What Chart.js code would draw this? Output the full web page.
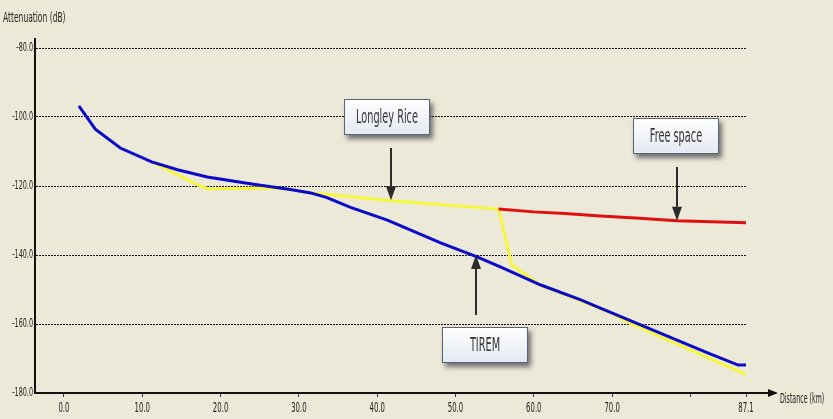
<!DOCTYPE html>
<html>
<head>
<meta charset="utf-8">
<script src="https://cdn.jsdelivr.net/npm/chart.js@4.4.1/dist/chart.umd.min.js"></script>
<style>
  html, body { margin: 0; padding: 0; background: #ECE9D8; }
  #wrap { width: 833px; height: 419px; }
</style>
</head>
<body>
<div id="wrap"><canvas id="chart" width="833" height="419"></canvas></div>
<script>
// values (km, dB)
const tiremKm = [1.9, 4.0, 7.2, 11.2, 14.5, 18.3, 24.2, 28.9, 31.5, 33.5, 36.6, 41.3, 48.1, 52.6, 55.8, 60.9, 66.0, 68.5, 73.7, 82.2, 86.1, 87.5]
const tiremDb = [-96.8, -103.5, -109.0, -113.0, -115.3, -117.4, -119.5, -121.0, -122.0, -123.3, -126.2, -129.9, -136.5, -140.4, -143.5, -148.7, -153.0, -155.4, -160.3, -168.4, -171.9, -171.9]

const longleyKm = [11.2, 17.4, 18.3, 26.7, 28.9, 31.5, 33.2, 41.7, 55.5, 57.2, 60.9, 66.0, 70.0, 72.4, 80.0, 87.3]
const longleyDb = [-113.0, -120.0, -120.8, -120.6, -121.0, -122.0, -122.3, -124.3, -126.7, -142.9, -148.8, -153.3, -157.0, -159.9, -167.5, -174.8]

const freeKm = [55.5, 60.0, 64.0, 68.5, 73.0, 78.3, 87.5]
const freeDb = [-126.7, -127.5, -128.0, -128.7, -129.3, -130.1, -130.7]

const xTicks = [0, 10, 20, 30, 40, 50, 60, 70, 80, 87.1]
const yTicks = [-180, -160, -140, -120, -100, -80]

// callouts: label, arrow tip / tail, box centre (all in km, dB)
const callouts = [
    { text: 'Longley Rice', tip: [41.7, -124.1], tail: [41.7, -109.0], box: [41.3, -100.0] },
    { text: 'Free space',   tip: [78.3, -130.1], tail: [78.3, -114.5], box: [78.1, -105.5] },
    { text: 'TIREM',        tip: [52.6, -140.0], tail: [52.6, -157.4], box: [53.8, -166.1] },
]

const narrow = "'Liberation Sans Narrow', 'DejaVu Sans Condensed', sans-serif"

function pts(xs, ys) {
    return xs.map((x, i) => ({ x: x, y: ys[i] }))
}

// the source uses a very condensed font, so squash the text horizontally
function squishText(ctx, text, x, y, size, sx, align) {
    ctx.save()
    ctx.translate(x, y)
    ctx.scale(sx, 1)
    ctx.font = size + 'px ' + narrow
    ctx.textAlign = align
    ctx.textBaseline = 'middle'
    ctx.fillText(text, 0, 0)
    ctx.restore()
}

const calloutPlugin = {
    id: 'callouts',
    afterDatasetsDraw(chart) {
        const ctx = chart.ctx
        const sx = chart.scales.x, sy = chart.scales.y
        callouts.forEach(c => {
            // arrow
            const tx = Math.round(sx.getPixelForValue(c.tip[0])), ty = sy.getPixelForValue(c.tip[1])
            const ay = sy.getPixelForValue(c.tail[1])
            const dir = ty > ay ? 1 : -1
            const head = 14
            ctx.save()
            ctx.strokeStyle = '#2b2b2b'
            ctx.fillStyle = '#2b2b2b'
            ctx.lineWidth = 2
            ctx.beginPath()
            ctx.moveTo(tx, ay)
            ctx.lineTo(tx, ty - dir * head)
            ctx.stroke()
            ctx.beginPath()
            ctx.moveTo(tx, ty)
            ctx.lineTo(tx - 5, ty - dir * head)
            ctx.lineTo(tx + 5, ty - dir * head)
            ctx.closePath()
            ctx.fill()
            ctx.restore()

            // box
            const w = 86, h = 36
            const bx = Math.round(sx.getPixelForValue(c.box[0]) - w / 2)
            const by = Math.round(sy.getPixelForValue(c.box[1]) - h / 2)
            ctx.save()
            ctx.shadowColor = 'rgba(30,30,40,0.6)'
            ctx.shadowBlur = 5
            ctx.shadowOffsetX = 3
            ctx.shadowOffsetY = 4
            const g = ctx.createLinearGradient(0, by, 0, by + h)
            g.addColorStop(0, '#ffffff')
            g.addColorStop(1, '#e3e9f1')
            ctx.fillStyle = g
            ctx.fillRect(bx, by, w, h)
            ctx.restore()
            ctx.save()
            ctx.strokeStyle = '#56637e'
            ctx.lineWidth = 1
            ctx.strokeRect(bx + 0.5, by + 0.5, w - 1, h - 1)
            ctx.fillStyle = '#333'
            squishText(ctx, c.text, bx + w / 2, by + h / 2 + 1, 19, 0.57, 'center')
            ctx.restore()
        })
    },
    afterDraw(chart) {
        const ctx = chart.ctx
        const a = chart.chartArea
        const sx = chart.scales.x, sy = chart.scales.y
        ctx.save()
        ctx.strokeStyle = '#111'
        ctx.fillStyle = '#111'
        ctx.lineWidth = 2
        // axis extensions
        ctx.beginPath()
        ctx.moveTo(a.left, a.top)
        ctx.lineTo(a.left, a.top - 10)
        ctx.moveTo(a.right, a.bottom)
        ctx.lineTo(a.right + 24, a.bottom)
        ctx.stroke()
        ctx.beginPath()
        ctx.moveTo(a.right + 32, a.bottom)
        ctx.lineTo(a.right + 22, a.bottom - 4)
        ctx.lineTo(a.right + 22, a.bottom + 4)
        ctx.closePath()
        ctx.fill()
        // tick labels, placed by the scales
        ctx.fillStyle = '#222'
        sx.ticks.forEach(t => {
            if (t.value === 80) return
            squishText(ctx, t.value.toFixed(1), sx.getPixelForValue(t.value), a.bottom + 15, 14, 0.55, 'center')
        })
        sy.ticks.forEach(t => {
            squishText(ctx, t.value.toFixed(1), a.left - 2, sy.getPixelForValue(t.value), 13, 0.55, 'right')
        })
        // axis titles
        squishText(ctx, 'Attenuation (dB)', 3, 18, 14, 0.6, 'left')
        squishText(ctx, 'Distance (km)', a.right + 34, a.bottom + 6, 14, 0.5, 'left')
        ctx.restore()
    }
}

new Chart(document.getElementById('chart'), {
    type: 'scatter',
    data: {
        datasets: [
            {
                label: 'TIREM',
                data: pts(tiremKm, tiremDb),
                showLine: true,
                borderColor: '#0a0ac8',
                borderWidth: 3,
                pointRadius: 0,
                order: 0,
            },
            {
                label: 'Free space',
                data: pts(freeKm, freeDb),
                showLine: true,
                borderColor: '#e01010',
                borderWidth: 3,
                pointRadius: 0,
                order: 1,
            },
            {
                label: 'Longley Rice',
                data: pts(longleyKm, longleyDb),
                showLine: true,
                borderColor: '#f6f63c',
                borderWidth: 3,
                pointRadius: 0,
                order: 2,
            },
        ]
    },
    options: {
        responsive: false,
        devicePixelRatio: 1,
        animation: false,
        layout: { padding: { top: 48, right: 87, left: 0, bottom: 0 } },
        plugins: {
            legend: { display: false },
            tooltip: { enabled: false },
        },
        scales: {
            x: {
                type: 'linear',
                min: -3.7,
                max: 87.1,
                afterFit: s => { s.height = 26 },
                afterBuildTicks: s => { s.ticks = xTicks.map(v => ({ value: v })) },
                border: { display: true, color: '#111', width: 2 },
                grid: { drawOnChartArea: false, drawTicks: true, tickLength: 4, tickColor: '#333' },
                ticks: { display: false, autoSkip: false },
            },
            y: {
                min: -180,
                max: -80,
                afterFit: s => { s.width = 35 },
                afterBuildTicks: s => { s.ticks = yTicks.map(v => ({ value: v })) },
                grid: {
                    drawTicks: false,
                    color: c => c.tick && c.tick.value === -180 ? 'rgba(0,0,0,0)' : '#111',
                    lineWidth: 1,
                },
                border: { display: true, color: '#111', width: 2, dash: [2, 1] },
                ticks: { display: false },
            },
        }
    },
    plugins: [calloutPlugin]
})
</script>
</body>
</html>
